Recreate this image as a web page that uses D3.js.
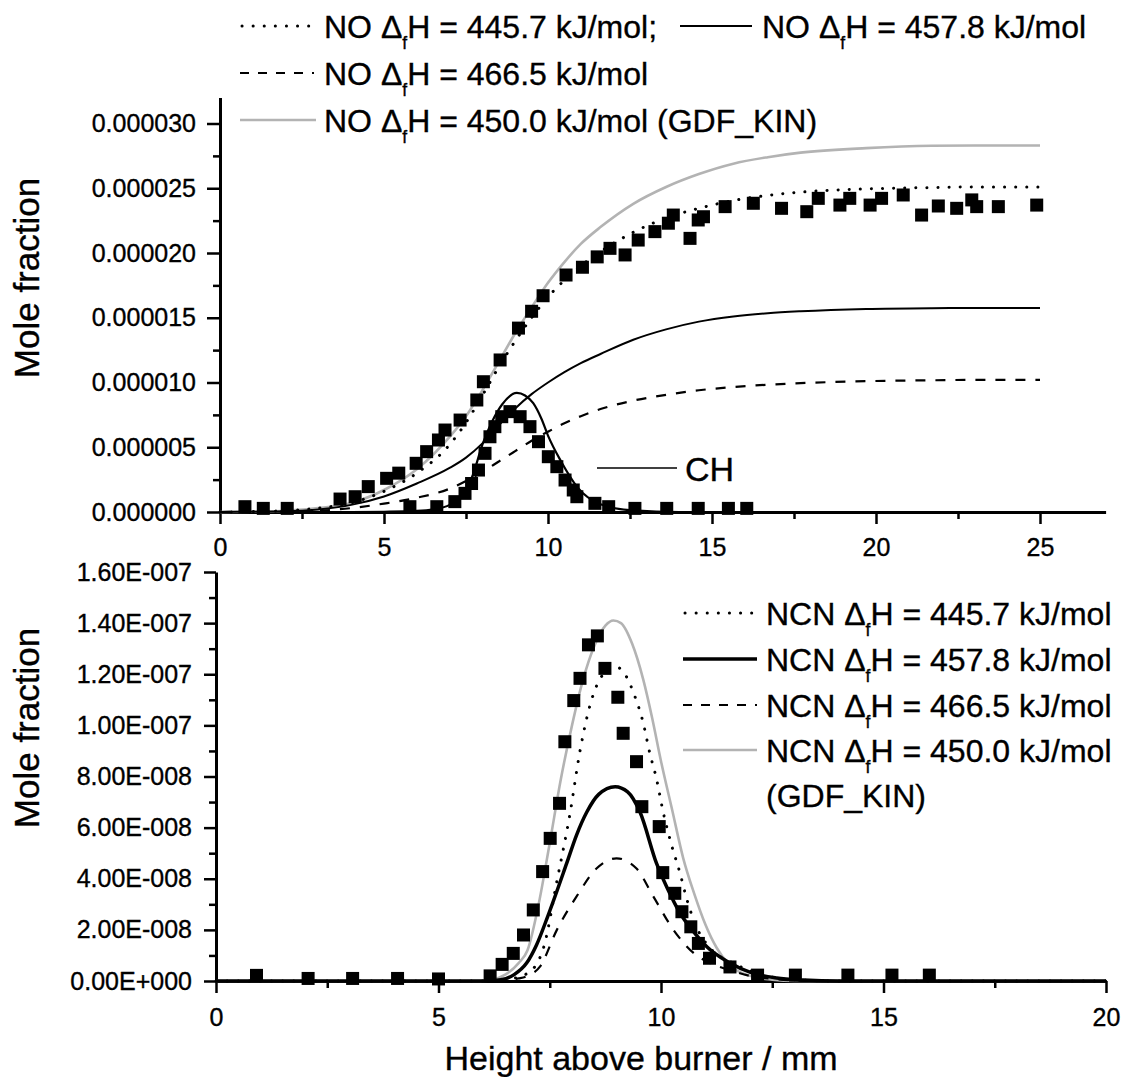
<!DOCTYPE html>
<html>
<head>
<meta charset="utf-8">
<script src="https://cdn.jsdelivr.net/npm/d3@7"></script>
<style>
  html, body { margin: 0; padding: 0; background: #fff; }
  svg { display: block; }
  text { font-family: "Liberation Sans", Arial, Helvetica, sans-serif; fill: #000; stroke: #000; stroke-width: 0.35px; }
</style>
</head>
<body>
<svg id="chart" width="1125" height="1077"></svg>
<script>
// ---------------- DATA ----------------
// Top panel (NO, CH) — x in mm, y as mole fraction
const topXTicks = [0, 5, 10, 15, 20, 25];
const topYTicks = [0, 0.000005, 0.00001, 0.000015, 0.00002, 0.000025, 0.00003];
const topYTickLabels = ["0.000000", "0.000005", "0.000010", "0.000015", "0.000020", "0.000025", "0.000030"];

// measured NO (squares), units 1e-6
const noMeasX = [0.76, 1.32, 2.05, 3.66, 4.12, 4.52, 5.08, 5.45, 5.98, 6.30, 6.66, 6.86, 7.32, 7.83, 8.03, 8.54, 9.10, 9.50, 9.85, 10.55, 11.05, 11.50, 11.89, 12.35, 12.75, 13.26, 13.67, 13.82, 14.33, 14.58, 14.74, 15.40, 16.26, 17.12, 17.89, 18.24, 18.90, 19.20, 19.82, 20.17, 20.83, 21.39, 21.90, 22.46, 22.92, 23.07, 23.73, 24.90];
const noMeasY = [0.41, 0.28, 0.28, 1.00, 1.18, 1.96, 2.60, 3.00, 3.76, 4.66, 5.56, 6.33, 7.10, 8.65, 10.06, 11.74, 14.2, 15.5, 16.7, 18.3, 18.9, 19.7, 20.36, 19.85, 21.0, 21.65, 22.3, 22.93, 21.13, 22.55, 22.8, 23.58, 23.84, 23.45, 23.19, 24.22, 23.7, 24.22, 23.7, 24.22, 24.48, 22.93, 23.63, 23.45, 24.1, 23.58, 23.58, 23.7];

// measured CH (squares), units 1e-6
const chMeasX = [5.79, 6.61, 7.16, 7.47, 7.67, 7.88, 8.08, 8.23, 8.38, 8.59, 8.84, 9.15, 9.45, 9.71, 10.01, 10.27, 10.52, 10.77, 10.88, 11.43, 11.85, 12.65, 13.62, 14.58, 15.50, 16.06];
const chMeasY = [0.41, 0.41, 0.80, 1.44, 2.20, 3.24, 4.53, 5.81, 6.59, 7.36, 7.75, 7.36, 6.59, 5.43, 4.27, 3.50, 2.47, 1.70, 1.18, 0.67, 0.41, 0.28, 0.28, 0.28, 0.28, 0.28];

// model curves NO, units 1e-6
const noCurveX = [0, 1, 2, 3, 4, 5, 6, 7, 7.5, 8, 8.5, 9, 9.5, 10, 10.5, 11, 11.6, 12.6, 13.6, 14.6, 15.65, 16.7, 17.7, 19.7, 21.7, 23, 25];
const no4457 = [0, 0.03, 0.1, 0.3, 0.7, 1.6, 3.0, 5.2, 6.9, 9.0, 11.2, 13.2, 15.0, 16.6, 17.9, 19.0, 20.1, 21.6, 22.7, 23.45, 24.05, 24.45, 24.7, 24.95, 25.05, 25.1, 25.1];
const no4578 = [0, 0.02, 0.05, 0.2, 0.55, 1.2, 2.2, 3.4, 4.2, 5.3, 6.7, 8.0, 9.1, 10.0, 10.8, 11.5, 12.2, 13.3, 14.1, 14.7, 15.1, 15.35, 15.5, 15.68, 15.74, 15.75, 15.75];
const no4665 = [0, 0.01, 0.03, 0.1, 0.3, 0.65, 1.1, 1.8, 2.4, 3.1, 3.9, 4.7, 5.5, 6.2, 6.85, 7.4, 7.95, 8.6, 9.05, 9.4, 9.65, 9.83, 9.95, 10.1, 10.17, 10.2, 10.2];
const noGdf = [0, 0.03, 0.1, 0.3, 0.7, 1.7, 3.3, 5.8, 7.4, 9.4, 11.6, 13.8, 15.8, 17.7, 19.3, 20.7, 22.0, 23.8, 25.1, 26.1, 26.9, 27.4, 27.75, 28.1, 28.28, 28.3, 28.3];

// CH model curve, units 1e-6
const chCurveX = [4, 5, 6, 6.5, 7, 7.4, 7.7, 8.0, 8.3, 8.6, 9.05, 9.3, 9.55, 9.8, 10.0, 10.4, 10.9, 11.6, 12.6, 14, 16];
const chCurveY = [0, 0.02, 0.08, 0.2, 0.55, 1.3, 2.8, 5.2, 7.0, 8.3, 9.2, 9.0, 8.4, 7.2, 5.9, 3.9, 1.9, 0.6, 0.12, 0, 0];

// Bottom panel (NCN)
const botXTicks = [0, 5, 10, 15, 20];
const botYTicks = [0, 2e-8, 4e-8, 6e-8, 8e-8, 1e-7, 1.2e-7, 1.4e-7, 1.6e-7];
const botYTickLabels = ["0.00E+000", "2.00E-008", "4.00E-008", "6.00E-008", "8.00E-008", "1.00E-007", "1.20E-007", "1.40E-007", "1.60E-007"];

// measured NCN (squares), units 1e-8
const ncnMeasX = [0.91, 2.07, 3.07, 4.08, 5.00, 6.16, 6.43, 6.68, 6.91, 7.13, 7.34, 7.51, 7.72, 7.84, 8.04, 8.18, 8.37, 8.57, 8.74, 9.03, 9.15, 9.45, 9.57, 9.96, 10.04, 10.31, 10.47, 10.67, 10.84, 11.09, 11.55, 12.17, 13.02, 14.20, 15.19, 16.03];
const ncnMeasY = [0.22, 0.10, 0.10, 0.10, 0.08, 0.20, 0.65, 1.08, 1.80, 2.78, 4.28, 5.58, 6.95, 9.36, 10.97, 11.84, 13.15, 13.50, 12.23, 11.10, 9.69, 8.58, 6.82, 6.04, 4.24, 3.43, 2.71, 2.12, 1.47, 0.89, 0.55, 0.23, 0.23, 0.23, 0.23, 0.23];

// model curves NCN, units 1e-8
const ncnDotX = [0, 6.0, 6.5, 7.0, 7.36, 7.66, 7.96, 8.18, 8.44, 8.7, 8.97, 9.15, 9.42, 9.6, 9.75, 9.9, 10.05, 10.24, 10.43, 10.58, 10.8, 11.1, 11.62, 12.07, 12.5, 13, 14, 20];
const ncnDotY = [0, 0, 0.05, 0.3, 1.3, 3.9, 6.6, 9.0, 11.0, 12.0, 12.3, 12.1, 11.1, 10.1, 8.9, 7.9, 6.6, 5.3, 4.2, 3.2, 2.1, 1.3, 0.7, 0.36, 0.15, 0.05, 0, 0];
const ncnSolX = [0, 6.0, 6.4, 6.7, 6.98, 7.2, 7.47, 7.88, 8.1, 8.33, 8.6, 8.97, 9.25, 9.53, 9.9, 10.15, 10.43, 10.7, 11.03, 11.5, 12.07, 12.6, 13.2, 14, 20];
const ncnSolY = [0, 0, 0.05, 0.25, 0.7, 1.4, 2.6, 4.6, 5.7, 6.6, 7.3, 7.6, 7.4, 6.6, 4.6, 3.6, 2.65, 2.0, 1.34, 0.75, 0.3, 0.12, 0.04, 0, 0];
const ncnDashX = [0, 6.3, 6.8, 7.0, 7.28, 7.66, 8.1, 8.55, 9.0, 9.45, 9.83, 10.28, 10.73, 11.1, 11.5, 12.0, 12.6, 13.5, 20];
const ncnDashY = [0, 0, 0.1, 0.2, 0.56, 2.0, 3.3, 4.4, 4.8, 4.4, 3.3, 2.0, 1.1, 0.7, 0.45, 0.2, 0.07, 0, 0];
const ncnGdfX = [0, 6.0, 6.5, 6.8, 7.0, 7.25, 7.5, 7.75, 8.0, 8.25, 8.5, 8.75, 8.93, 9.1, 9.35, 9.6, 9.8, 10.0, 10.25, 10.5, 10.75, 11.0, 11.25, 11.5, 12.0, 12.5, 13.0, 20];
const ncnGdfY = [0, 0, 0.25, 0.7, 1.2, 3.0, 5.4, 7.9, 10.0, 11.8, 13.1, 13.9, 14.1, 14.0, 13.2, 11.8, 10.3, 8.6, 6.7, 4.8, 3.4, 2.2, 1.3, 0.7, 0.2, 0.05, 0, 0];

// ---------------- DRAWING ----------------
const svg = d3.select("#chart");
const FONT_TICK = 25;

function zip(xs, ys, k) { return xs.map((x, i) => [x, ys[i] * k]); }

const xT = d3.scaleLinear().domain([0, 27]).range([220, 1105.6]);
const yT = d3.scaleLinear().domain([0, 3.2e-5]).range([512, 97.6]);
const xB = d3.scaleLinear().domain([0, 20]).range([216, 1106]);
const yB = d3.scaleLinear().domain([0, 1.6e-7]).range([981, 572]);

function styleAxis(g, w) {
  g.selectAll("path.domain").attr("stroke", "#000").attr("stroke-width", w);
  g.selectAll(".tick line").attr("stroke", "#000").attr("stroke-width", 2.5);
  g.selectAll(".tick text").style("font-size", FONT_TICK + "px").attr("fill", "#000")
    .style("font-family", '"Liberation Sans", Arial, sans-serif');
}

function drawAxes(xs, ys, xTicks, xMinor, yTicks, yMinor, yLabels, xPad, yPad, yTick) {
  svg.append("g").attr("transform", `translate(0,${ys(0)})`)
    .call(d3.axisBottom(xs).tickValues(xMinor).tickFormat("").tickSize(7).tickSizeOuter(0))
    .call(g => { g.select("path.domain").remove(); styleAxis(g, 3); });
  svg.append("g").attr("transform", `translate(${xs(0)},0)`)
    .call(d3.axisLeft(ys).tickValues(yMinor).tickFormat("").tickSize(7).tickSizeOuter(0))
    .call(g => { g.select("path.domain").remove(); styleAxis(g, 3); });
  svg.append("g").attr("transform", `translate(0,${ys(0)})`)
    .call(d3.axisBottom(xs).tickValues(xTicks).tickFormat(d3.format("d")).tickSize(12).tickPadding(xPad).tickSizeOuter(0))
    .call(g => styleAxis(g, 3));
  svg.append("g").attr("transform", `translate(${xs(0)},0)`)
    .call(d3.axisLeft(ys).tickValues(yTicks).tickFormat((d, i) => yLabels[i]).tickSize(yTick).tickPadding(yPad).tickSizeOuter(0))
    .call(g => styleAxis(g, 3));
}

drawAxes(xT, yT, topXTicks, [2.5, 7.5, 12.5, 17.5, 22.5],
  topYTicks, [2.5e-6, 7.5e-6, 12.5e-6, 17.5e-6, 22.5e-6, 27.5e-6], topYTickLabels, 14, 11, 13);
drawAxes(xB, yB, botXTicks, [2.5, 7.5, 12.5, 17.5],
  botYTicks, [1e-8, 3e-8, 5e-8, 7e-8, 9e-8, 1.1e-7, 1.3e-7, 1.5e-7], botYTickLabels, 15, 12, 12);

function drawLine(data, xs, ys, style) {
  const line = d3.line().x(d => xs(d[0])).y(d => ys(d[1])).curve(d3.curveMonotoneX);
  const p = svg.append("path").datum(data).attr("d", line).attr("fill", "none")
    .attr("stroke", style.color).attr("stroke-width", style.width);
  if (style.dash) p.attr("stroke-dasharray", style.dash);
  if (style.cap) p.attr("stroke-linecap", style.cap);
  return p;
}

const S = {
  dot: { color: "#000", width: 3, dash: "0.1,11", cap: "round" },
  solid: { color: "#000", width: 2 },
  solidBold: { color: "#000", width: 3.5 },
  dash: { color: "#000", width: 2.2, dash: "10,10" },
  gray: { color: "#b3b3b3", width: 2.6 },
  thin: { color: "#000", width: 1.5 }
};

drawLine(zip(noCurveX, noGdf, 1e-6), xT, yT, S.gray);
drawLine(zip(noCurveX, no4665, 1e-6), xT, yT, S.dash);
drawLine(zip(noCurveX, no4578, 1e-6), xT, yT, S.solid);
drawLine(zip(chCurveX, chCurveY, 1e-6), xT, yT, { color: "#000", width: 2.2 });
drawLine(zip(noCurveX, no4457, 1e-6), xT, yT, S.dot);

const SQ = 13;
function drawSquares(data, xs, ys) {
  svg.append("g").selectAll("rect").data(data).join("rect")
    .attr("x", d => xs(d[0]) - SQ / 2).attr("y", d => ys(d[1]) - SQ / 2)
    .attr("width", SQ).attr("height", SQ).attr("fill", "#000");
}
drawSquares(zip(noMeasX, noMeasY, 1e-6), xT, yT);
drawSquares(zip(chMeasX, chMeasY, 1e-6), xT, yT);

drawLine(zip(ncnGdfX, ncnGdfY, 1e-8), xB, yB, S.gray);
drawLine(zip(ncnDashX, ncnDashY, 1e-8), xB, yB, S.dash);
drawLine(zip(ncnSolX, ncnSolY, 1e-8), xB, yB, S.solidBold);
drawLine(zip(ncnDotX, ncnDotY, 1e-8), xB, yB, S.dot);
drawSquares(zip(ncnMeasX, ncnMeasY, 1e-8), xB, yB);

// ---------------- LEGENDS ----------------
function legendText(x, y, prefix, suffix, size) {
  const t = svg.append("text").attr("x", x).attr("y", y).style("font-size", size + "px");
  t.append("tspan").text(prefix + " \u0394");
  t.append("tspan").attr("dy", size * 0.36).style("font-size", (size * 0.55) + "px").text("f");
  t.append("tspan").attr("dy", -size * 0.36).text("H = " + suffix);
  return t;
}
function legendSample(x1, x2, y, style) {
  const l = svg.append("line").attr("x1", x1).attr("x2", x2).attr("y1", y).attr("y2", y)
    .attr("stroke", style.color).attr("stroke-width", style.width);
  if (style.dash) l.attr("stroke-dasharray", style.dash);
  if (style.cap) l.attr("stroke-linecap", style.cap);
}

const LF = 32;
legendSample(242, 314, 26, S.dot);
legendText(324, 26 + 11.5, "NO", "445.7 kJ/mol;", LF);
legendSample(680, 752, 26, S.solid);
legendText(762, 26 + 11.5, "NO", "457.8 kJ/mol", LF);
legendSample(240, 314, 73, { color: "#000", width: 2.2, dash: "9,9" });
legendText(324, 73 + 11.5, "NO", "466.5 kJ/mol", LF);
legendSample(240, 316, 120, S.gray);
legendText(324, 120 + 11.5, "NO", "450.0 kJ/mol (GDF_KIN)", LF);

legendSample(597, 677, 468, S.thin);
svg.append("text").attr("x", 685).attr("y", 481).style("font-size", "34px").text("CH");

legendSample(685, 757, 613, S.dot);
legendText(766, 613 + 11.5, "NCN", "445.7 kJ/mol", LF);
legendSample(683, 757, 659, S.solidBold);
legendText(766, 659 + 11.5, "NCN", "457.8 kJ/mol", LF);
legendSample(683, 757, 705, { color: "#000", width: 2.2, dash: "9,9" });
legendText(766, 705 + 11.5, "NCN", "466.5 kJ/mol", LF);
legendSample(683, 757, 750, S.gray);
legendText(766, 750 + 11.5, "NCN", "450.0 kJ/mol", LF);
svg.append("text").attr("x", 766).attr("y", 795 + 11.5).style("font-size", LF + "px").text("(GDF_KIN)");

svg.append("text").attr("transform", "translate(39,278) rotate(-90)").attr("text-anchor", "middle")
  .style("font-size", "35px").text("Mole fraction");
svg.append("text").attr("transform", "translate(39,728) rotate(-90)").attr("text-anchor", "middle")
  .style("font-size", "35px").text("Mole fraction");
svg.append("text").attr("x", 641).attr("y", 1070).attr("text-anchor", "middle")
  .style("font-size", "34px").text("Height above burner / mm");
</script>
</body>
</html>
